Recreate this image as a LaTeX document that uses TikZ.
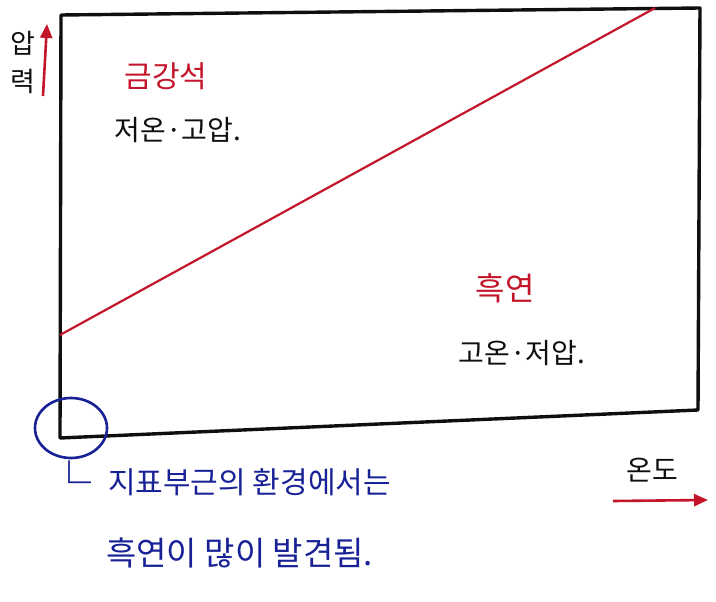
\documentclass[tikz,border=0pt]{standalone}
\usepackage{fontspec}
\newfontfamily\kr{Noto Sans CJK KR}
\usetikzlibrary{arrows.meta}
\definecolor{pen red}{RGB}{196,22,42}
\definecolor{pen blue}{RGB}{24,34,150}
\definecolor{pen black}{RGB}{15,15,15}
\tikzset{
  frameline/.style={draw=pen black, line width=3.4pt, line cap=round, line join=round},
  redlbl/.style={text=pen red, font=\kr\fontsize{30}{32}\selectfont, inner sep=0pt},
  blklbl/.style={text=pen black, font=\kr\fontsize{28}{30}\selectfont, inner sep=0pt},
  bluelbl/.style={text=pen blue, font=\kr\fontsize{30}{32}\selectfont, inner sep=0pt, anchor=west},
  redarrow/.style={draw=pen red, line width=2.6pt, -{Triangle[length=14pt,width=12pt]}},
}
\begin{document}
\begin{tikzpicture}[x=1pt,y=-1pt]
\useasboundingbox (0,0) rectangle (716,602);
\fill[white] (0,0) rectangle (716,602);
% frame corners
\coordinate (o) at (60,438);
\coordinate (tl) at (61,15);
\coordinate (tr) at (700,8);
\coordinate (br) at (698,410);
\draw[frameline] (o) -- (tl) -- (tr) -- (br) -- (o);
% phase boundary
\coordinate (p1) at (60,335);
\coordinate (p2) at (655,8);
\draw[draw=pen red, line width=2.2pt] (p1) -- (p2);
% axis labels
\node[blklbl, font=\kr\fontsize{27}{38}\selectfont, align=center] (ylab) at (23,62) {압\\력};
\coordinate (ya1) at (43,96);
\coordinate (ya2) at (47,24);
\draw[redarrow] (ya1) -- (ya2);
\node[blklbl] (xlab) at (652,470) {온도};
\coordinate (xa1) at (613,501);
\coordinate (xa2) at (708,500);
\draw[redarrow] (xa1) -- (xa2);
% region labels
\node[redlbl] (dia) at (166,76) {금강석};
\node[blklbl] (diac) at (178,130) {저온·고압.};
\node[redlbl, font=\kr\fontsize{32}{34}\selectfont] (gra) at (505,288) {흑연};
\node[blklbl] (grac) at (522,353) {고온·저압.};
% origin note
\draw[draw=pen blue, line width=2.6pt] (71,428) ellipse (36pt and 30pt);
\node[bluelbl, font=\kr\fontsize{44}{44}\selectfont] (mark) at (47,480) {└};
\node[bluelbl] (note1) at (108,482) {지표부근의 환경에서는};
\node[bluelbl, font=\kr\fontsize{33}{35}\selectfont] (note2) at (106,553) {흑연이 많이 발견됨.};
\end{tikzpicture}
\end{document}
